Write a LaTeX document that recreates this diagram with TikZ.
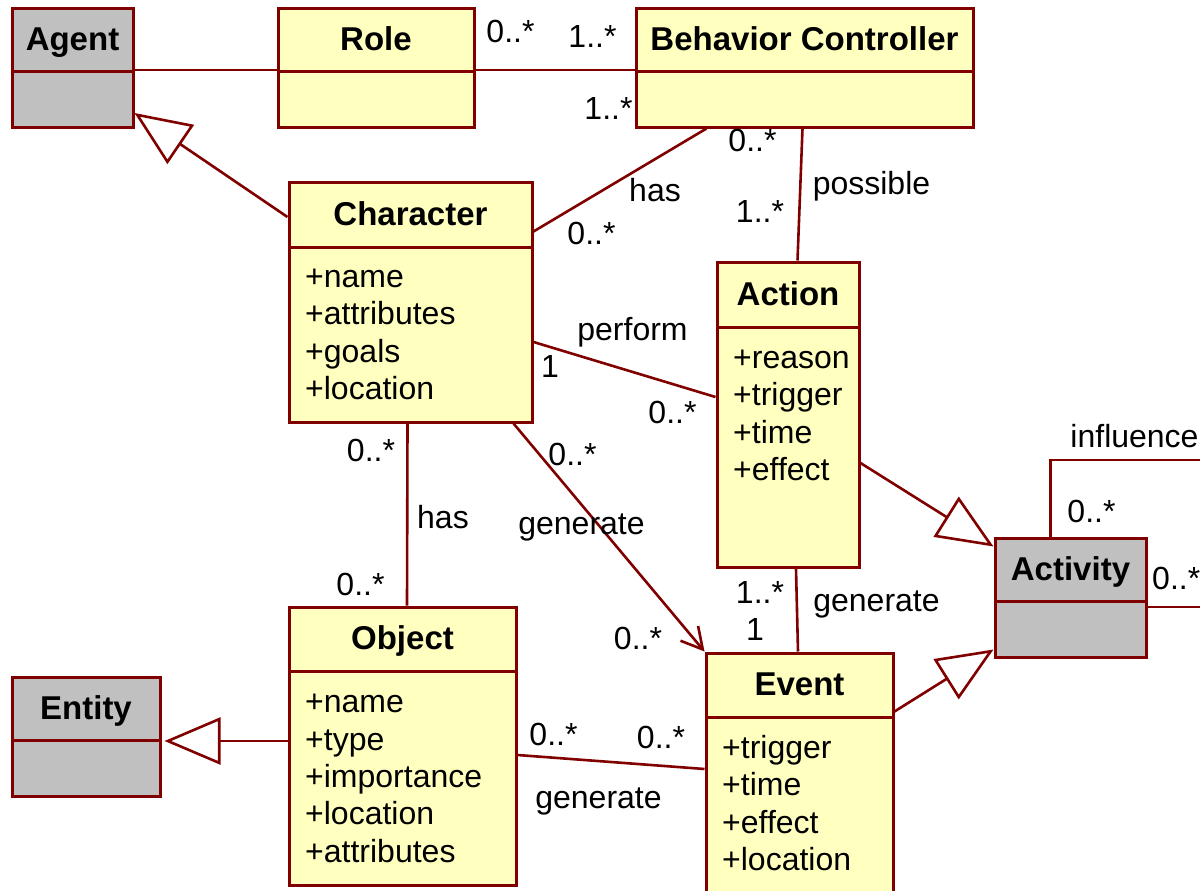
\documentclass[tikz,border=0pt]{standalone}
\usepackage{fontspec}
\setmainfont{Liberation Sans}
\usetikzlibrary{arrows.meta,calc}
\definecolor{umlred}{RGB}{128,0,0}
\definecolor{umlyel}{RGB}{255,255,192}
\definecolor{umlgrey}{RGB}{192,192,192}

\begin{document}
\begin{tikzpicture}[x=1pt,y=-1pt,
  font=\fontsize{32}{37.5}\selectfont,
  cls/.style={draw=umlred,line width=3pt,fill=umlyel,inner sep=0pt},
  abs/.style={cls,fill=umlgrey},
  ttl/.style={draw=umlred,line width=3pt,inner sep=0pt,anchor=north,
              text height=26pt,text depth=5pt,
              font=\fontsize{33}{38}\selectfont\bfseries},
  attr/.style={anchor=base west,inner sep=0pt},
  lbl/.style={anchor=base,inner sep=0pt},
  assoc/.style={draw=umlred,line width=2.6pt},
  gen/.style={assoc,-{Triangle[length=56pt,width=47pt,fill=white]}},
  dep/.style={assoc,-{Straight Barb[length=21pt,width=23pt]}}]

\useasboundingbox (0,0) rectangle (1200,891);
\clip (0,0) rectangle (1200,891);

% classes
\node[abs,minimum width=121pt,minimum height=118pt] (agent) at (72.5,68) {};
\node[ttl,minimum width=121pt,minimum height=63pt] (agent-t) at (agent.north) {Agent};
\node[cls,minimum width=196pt,minimum height=118pt] (role) at (376,68) {};
\node[ttl,minimum width=196pt,minimum height=63pt] (role-t) at (role.north) {Role};
\node[cls,minimum width=337pt,minimum height=118pt] (ctrl) at (804.5,68) {};
\node[ttl,minimum width=337pt,minimum height=63pt] (ctrl-t) at (ctrl.north) {Behavior Controller};

\node[cls,minimum width=243pt,minimum height=240pt] (char) at (410.5,302) {};
\node[ttl,minimum width=243pt,minimum height=65pt] (char-t) at (char.north) {Character};
\foreach \a [count=\i] in {+name,+attributes,+goals,+location}
  \node[attr] (char-a\i) at (305,249.5+37.5*\i) {\a};

\node[cls,minimum width=142pt,minimum height=305pt] (action) at (788,414.5) {};
\node[ttl,minimum width=142pt,minimum height=65pt] (action-t) at (action.north) {Action};
\foreach \a [count=\i] in {+reason,+trigger,+time,+effect}
  \node[attr] (action-a\i) at (733,330.5+37.5*\i) {\a};

\node[abs,minimum width=151pt,minimum height=119pt] (activity) at (1070.5,597.5) {};
\node[ttl,minimum width=151pt,minimum height=63pt] (activity-t) at (activity.north) {Activity};

\node[cls,minimum width=227pt,minimum height=278pt] (object) at (402.5,746) {};
\node[ttl,minimum width=227pt,minimum height=64pt] (object-t) at (object.north) {Object};
\foreach \a [count=\i] in {+name,+type,+importance,+location,+attributes}
  \node[attr] (object-a\i) at (305,675.5+37.3*\i) {\a};

\node[abs,minimum width=148pt,minimum height=119pt] (entity) at (86,736.5) {};
\node[ttl,minimum width=148pt,minimum height=63pt] (entity-t) at (entity.north) {Entity};

\node[cls,minimum width=187pt,minimum height=277pt] (event) at (799.5,791.5) {};
\node[ttl,minimum width=187pt,minimum height=64pt] (event-t) at (event.north) {Event};
\foreach \a [count=\i] in {+trigger,+time,+effect,+location}
  \node[attr] (event-a\i) at (722,720.5+37.5*\i) {\a};

% connectors
\draw[assoc] ([yshift=-2pt]agent.east) -- ([yshift=-2pt]role.west);
\draw[assoc] ([yshift=-2pt]role.east) -- ([yshift=-2pt]ctrl.west);
\draw[gen] ([yshift=85pt]char.west) -- ([yshift=-45pt]agent.east);
\draw[assoc] ([yshift=-51pt]char.north east) -- ([xshift=72pt]ctrl.south west);
\draw[assoc] ([xshift=168pt]ctrl.south west) -- ([xshift=82pt]action.north west);
\draw[assoc] ([yshift=-40pt]char.east) -- ([yshift=17.5pt]action.west);
\draw[assoc] ([xshift=-3pt]char.south) -- ([xshift=4.5pt]object.north);
\draw[dep] ([xshift=-20pt]char.south east) -- (event.north west);
\draw[assoc] ([xshift=8pt]action.south) -- ([xshift=-1.5pt]event.north);
\draw[assoc] ([yshift=-9pt]object.east) -- ([yshift=22.5pt]event.west);
\draw[gen] ([yshift=5pt]object.west) -- ([xshift=3pt,yshift=-4.5pt]entity.east);
\draw[gen] ([yshift=-48.5pt]action.east) -- ([yshift=-10pt]activity.north west);
\draw[gen] ([yshift=-60pt]event.north east) -- ([yshift=9pt]activity.south west);
\coordinate (loop) at (1240,460);
\draw[assoc] ([xshift=57pt]activity.north west) |- (loop) |- ([yshift=-9.5pt]activity.east);

% multiplicities
\foreach \x/\y/\t [count=\i] in {510.5/43/0..*,592.5/48/1..*,608.5/120/1..*,
    752.5/151/0..*,760/222/1..*,591.5/244/0..*,550/377/1,672.5/423/0..*,
    371/461/0..*,572.5/465/0..*,360.5/595/0..*,760/603/1..*,755/640/1,
    638/649/0..*,553.5/745/0..*,661/748/0..*,1091.5/522/0..*}
  \node[lbl] (mult\i) at (\x,\y) {\t};
\node[attr] (mult-loop) at (1152,589) {0..*};

% role names
\foreach \x/\y/\t [count=\i] in {655/201/has,871.5/194/possible,632.5/340/perform,
    443/528/has,581.5/534/generate,876.5/611/generate,598.5/808/generate,
    1134.5/447/influence}
  \node[lbl] (role\i) at (\x,\y) {\t};
\end{tikzpicture}
\end{document}
